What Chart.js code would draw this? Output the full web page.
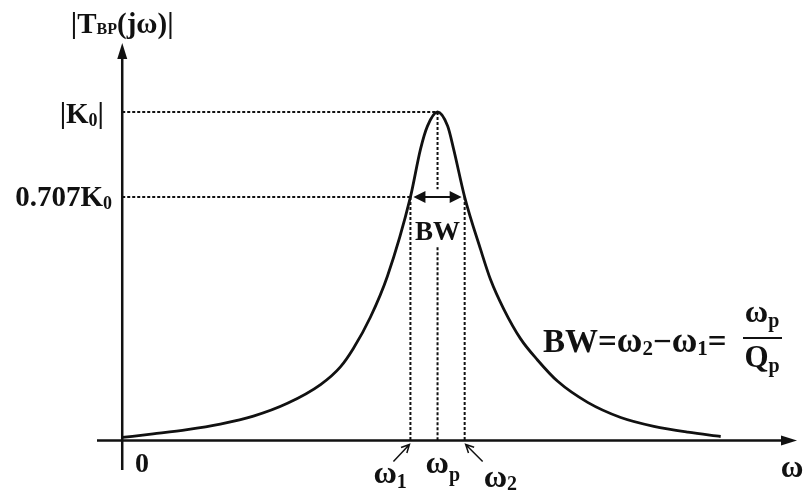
<!DOCTYPE html>
<html lang="en">
<head>
    <meta charset="UTF-8">
    <title>Band-pass magnitude response</title>
    <script src="https://cdn.jsdelivr.net/npm/chart.js@4/dist/chart.umd.min.js"></script>
    <style>
        body { margin: 0; background: #fff; }
        .chart-box { position: relative; width: 803px; height: 493px; }
    </style>
</head>
<body>
    <div class="chart-box"><canvas id="bpChart"></canvas></div>

    <script>
        // normalised frequency (omega / omega_p) and |T(jw)| / K0
        const omega = [0.000, 0.098, 0.206, 0.311, 0.416, 0.524, 0.629, 0.692, 0.733, 0.787, 0.841, 0.914, 0.946, 0.968, 1.000,
                       1.032, 1.051, 1.086, 1.137, 1.168, 1.210, 1.263, 1.317, 1.381, 1.476, 1.581, 1.686, 1.794, 1.898];
        const magnitude = [0.009, 0.020, 0.033, 0.050, 0.074, 0.113, 0.170, 0.224, 0.280, 0.375, 0.500, 0.741, 0.887, 0.957, 1.000,
                           0.957, 0.887, 0.741, 0.580, 0.490, 0.400, 0.310, 0.245, 0.180, 0.116, 0.070, 0.043, 0.025, 0.012];

        // marked levels on the vertical axis
        const levelValues = [1.0, 0.741];
        const levelLabels = ['|K', '0.707K'];

        // band edges on the frequency axis: w1, wp, w2
        const bandValues = [0.914, 1.0, 1.086];
        const bandSubs = ['1', 'p', '2'];

        const SERIF = '"Liberation Serif", "DejaVu Serif", serif';

        // draw a row of text pieces, each with its own size and vertical shift
        function drawRuns(ctx, runs, x, y, align) {
            let total = 0;
            runs.forEach(r => {
                ctx.font = 'bold ' + r[1] + 'px ' + SERIF;
                total += ctx.measureText(r[0]).width;
            });
            let cx = x;
            if (align === 'center') cx = x - total / 2;
            if (align === 'right') cx = x - total;
            ctx.textAlign = 'left';
            ctx.textBaseline = 'alphabetic';
            runs.forEach(r => {
                ctx.font = 'bold ' + r[1] + 'px ' + SERIF;
                ctx.fillText(r[0], cx, y + (r[2] || 0));
                cx += ctx.measureText(r[0]).width;
            });
        }

        function filledHead(ctx, tipX, tipY, dx, dy, len, half) {
            // dx,dy: unit direction the arrow points to
            const bx = tipX - dx * len, by = tipY - dy * len;
            ctx.beginPath();
            ctx.moveTo(tipX, tipY);
            ctx.lineTo(bx - dy * half, by + dx * half);
            ctx.lineTo(bx + dy * half, by - dx * half);
            ctx.closePath();
            ctx.fill();
        }

        function openArrow(ctx, x0, y0, x1, y1) {
            const len = Math.hypot(x1 - x0, y1 - y0);
            const dx = (x1 - x0) / len, dy = (y1 - y0) / len;
            ctx.beginPath();
            ctx.moveTo(x0, y0);
            ctx.lineTo(x1, y1);
            const hl = 8, hw = 4;
            ctx.moveTo(x1 - dx * hl - dy * hw, y1 - dy * hl + dx * hw);
            ctx.lineTo(x1, y1);
            ctx.lineTo(x1 - dx * hl + dy * hw, y1 - dy * hl - dx * hw);
            ctx.stroke();
        }

        const sketchPlugin = {
            id: 'sketch',
            afterDatasetsDraw(chart) {
                const ctx = chart.ctx;
                const xs = chart.scales.x, ys = chart.scales.y;
                const x0 = xs.getPixelForValue(0), y0 = ys.getPixelForValue(0);
                ctx.save();
                ctx.fillStyle = '#111';
                ctx.strokeStyle = '#111';

                // axes with arrow heads
                ctx.lineWidth = 2.5;
                ctx.beginPath();
                ctx.moveTo(xs.left, y0);
                ctx.lineTo(xs.right - 10, y0);
                ctx.moveTo(x0, ys.bottom);
                ctx.lineTo(x0, ys.top + 10);
                ctx.stroke();
                filledHead(ctx, xs.right, y0, 1, 0, 16, 5);
                filledHead(ctx, x0, ys.top, 0, -1, 16, 5);

                // BW double arrow between the band edges
                const yb = ys.getPixelForValue(levelValues[1]);
                const xa = xs.getPixelForValue(bandValues[0]) + 3;
                const xb = xs.getPixelForValue(bandValues[2]) - 3;
                ctx.lineWidth = 2;
                ctx.beginPath();
                ctx.moveTo(xa + 8, yb);
                ctx.lineTo(xb - 8, yb);
                ctx.stroke();
                filledHead(ctx, xa, yb, -1, 0, 12, 6);
                filledHead(ctx, xb, yb, 1, 0, 12, 6);

                // small pointers to w1 and w2
                ctx.lineWidth = 1.5;
                const p1 = xs.getPixelForValue(bandValues[0]);
                const p2 = xs.getPixelForValue(bandValues[2]);
                openArrow(ctx, p1 - 17, y0 + 21, p1 - 1, y0 + 4);
                openArrow(ctx, p2 + 18, y0 + 21, p2 + 1, y0 + 4);

                // texts
                drawRuns(ctx, [['|T', 29], ['BP', 16, 1], ['(jω)|', 29]], x0, 33, 'center');
                drawRuns(ctx, [[levelLabels[0], 29], ['0', 18, 3], ['|', 29]], 104, ys.getPixelForValue(levelValues[0]) + 11, 'right');
                drawRuns(ctx, [[levelLabels[1], 29], ['0', 18, 3]], 112, ys.getPixelForValue(levelValues[1]) + 9, 'right');
                drawRuns(ctx, [['BW', 27]], xs.getPixelForValue(bandValues[1]), 240, 'center');
                drawRuns(ctx, [['0', 28]], 142, 472, 'center');
                drawRuns(ctx, [['ω', 31]], 792, 477, 'center');

                const subDrop = [5, 8, 3];
                const baseY = [483, 473, 487];
                const leftX = [p1 - 37, xs.getPixelForValue(bandValues[1]) - 12, p2 + 19];
                bandSubs.forEach((s, i) => {
                    drawRuns(ctx, [['ω', 32], [s, 20, subDrop[i]]], leftX[i], baseY[i], 'left');
                });

                // BW = w2 - w1 = wp / Qp
                drawRuns(ctx, [['BW=', 33], ['ω', 35], ['2', 21, 3], ['−', 33], ['ω', 35], ['1', 21, 3], ['=', 33]], 543, 352, 'left');
                drawRuns(ctx, [['ω', 32], ['p', 20, 5]], 762, 322, 'center');
                ctx.lineWidth = 2;
                ctx.beginPath();
                ctx.moveTo(743, 338);
                ctx.lineTo(782, 338);
                ctx.stroke();
                drawRuns(ctx, [['Q', 31], ['p', 20, 5]], 762, 367, 'center');

                ctx.restore();
            }
        };

        const dotted = { borderColor: '#111', borderWidth: 2, borderDash: [3, 2], pointRadius: 0, showLine: true, fill: false };

        const curve = omega.map((w, i) => ({ x: w, y: magnitude[i] }));

        new Chart(document.getElementById('bpChart'), {
            type: 'scatter',
            data: {
                datasets: [
                    Object.assign({ data: [{ x: 0, y: levelValues[0] }, { x: bandValues[1], y: levelValues[0] }] }, dotted),
                    Object.assign({ data: [{ x: 0, y: levelValues[1] }, { x: bandValues[0], y: levelValues[1] }] }, dotted),
                    Object.assign({ data: [{ x: bandValues[0], y: levelValues[1] }, { x: bandValues[0], y: 0 }] }, dotted),
                    Object.assign({ data: [{ x: bandValues[2], y: levelValues[1] }, { x: bandValues[2], y: 0 }] }, dotted),
                    Object.assign({ data: [{ x: bandValues[1], y: levelValues[0] }, { x: bandValues[1], y: 0.765 }, { x: bandValues[1], y: null }, { x: bandValues[1], y: 0.588 }, { x: bandValues[1], y: 0 }], spanGaps: false }, dotted),
                    {
                        data: curve,
                        showLine: true,
                        borderColor: '#111',
                        borderWidth: 2.8,
                        pointRadius: 0,
                        cubicInterpolationMode: 'monotone',
                        fill: false
                    }
                ]
            },
            options: {
                responsive: true,
                maintainAspectRatio: false,
                animation: false,
                layout: { padding: { left: 97, right: 6, top: 43, bottom: 23 } },
                plugins: { legend: { display: false }, tooltip: { enabled: false } },
                scales: {
                    x: { type: 'linear', min: -0.08, max: 2.14, display: false },
                    y: { type: 'linear', min: -0.09, max: 1.21, display: false }
                }
            },
            plugins: [sketchPlugin]
        });
    </script>
</body>
</html>
